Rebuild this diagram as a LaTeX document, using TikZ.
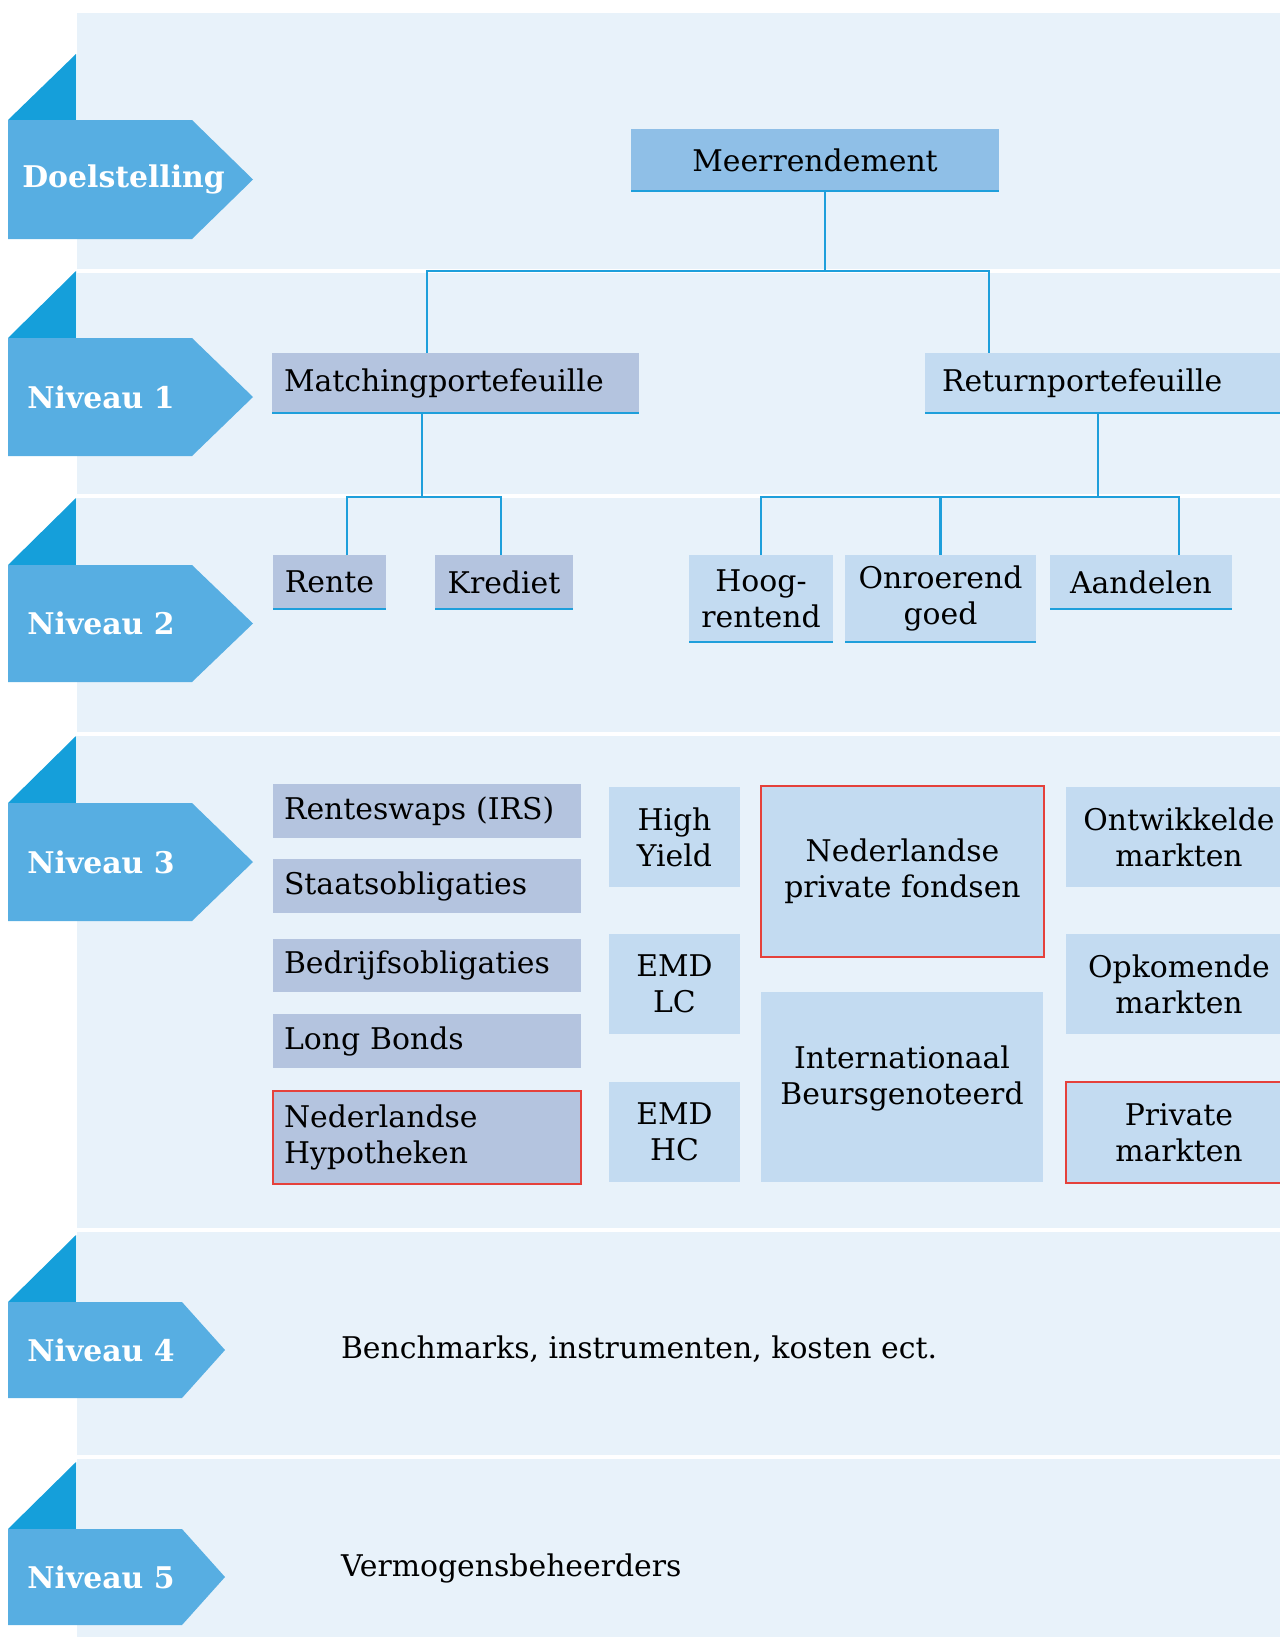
\documentclass[tikz,border=0pt]{standalone}
\usepackage{fontspec}
\setmainfont{DejaVu Serif}
\usetikzlibrary{calc}

\definecolor{panel}{HTML}{E8F2FA}
\definecolor{bannerblue}{HTML}{57AEE2}
\definecolor{cornerblue}{HTML}{159FDA}
\definecolor{topfill}{HTML}{8FBFE7}
\definecolor{matchfill}{HTML}{B4C4DF}
\definecolor{retfill}{HTML}{C3DBF1}
\definecolor{linkblue}{HTML}{1E9FDB}
\definecolor{markred}{HTML}{E5413B}

\tikzset{
  cell/.style={inner sep=0pt, outer sep=0pt, align=center,
    font=\fontsize{17}{20.5}\selectfont},
  box/.style args={#1/#2/#3/#4}{at={({(#1+#3)/2},{(#2+#4)/2})},
    minimum width={(#3-#1)*0.02cm}, minimum height={(#4-#2)*0.02cm}},
  topbox/.style={cell, fill=topfill},
  matchbox/.style={cell, fill=matchfill},
  retbox/.style={cell, fill=retfill},
  flagged/.style={draw=markred, line width=1.2pt},
  link/.style={draw=linkblue, line width=1.3pt},
  bar/.style={draw=linkblue, line width=1.6pt},
  banner/.style={fill=bannerblue},
  corner/.style={fill=cornerblue},
  flagtext/.style={text=white, anchor=west, inner sep=0pt,
    font=\fontsize{17}{19}\selectfont\bfseries},
}

\begin{document}
\begin{tikzpicture}[x=0.02cm, y=-0.02cm]
    \useasboundingbox (0,0) rectangle (1280,1637);
    \clip (0,0) rectangle (1280,1637);

    % fondo y separadores de filas
    \fill[panel] (77,13) rectangle (1280,1637);
    \foreach \y in {271,496,734,1230,1457}
        \draw[white, line width=2.3pt] (77,\y) -- (1280,\y);

    % banderas de niveles
    \foreach \top/\ya/\yb/\r/\tip/\tx/\lab [count=\i] in {
        54/120/239/192/253/22/Doelstelling,
        271/338/456/192/253/27/Niveau 1,
        498/565/682/192/253/27/Niveau 2,
        736/803/921/192/253/27/Niveau 3,
        1235/1302/1398/182/225/27/Niveau 4,
        1462/1529/1625/182/225/27/Niveau 5} {
        \fill[corner] (8,\ya) -- (76,\top) -- (76,\ya) -- cycle;
        \fill[banner] (8,\ya) -- (\r,\ya) -- (\tip,{(\ya+\yb)/2}) -- (\r,\yb) -- (8,\yb) -- cycle;
        \node[flagtext] (flag\i) at (\tx,{(\ya+\yb)/2}) {\lab};
    }

    % doelstelling y niveau 1
    \node[topbox, box=631/129/999/191] (meer) {Meerrendement};
    \node[matchbox, box=272/353/639/413, text width=6.86cm, align=left] (match) {Matchingportefeuille};
    \node[retbox, box=925/353/1300/413, text width=6.82cm, align=left] (ret) {Returnportefeuille};

    % niveau 2
    \node[matchbox, box=273/555/386/609] (rente) {Rente};
    \node[matchbox, box=435/555/573/609] (krediet) {Krediet};
    \node[retbox, box=689/555/833/642] (hoog) {Hoog-\\rentend};
    \node[retbox, box=845/555/1036/642] (onr) {Onroerend\\goed};
    \node[retbox, box=1050/555/1232/609] (aand) {Aandelen};

    % niveau 3, matching
    \node[matchbox, box=273/784/581/838, text width=5.72cm, align=left] (irs) {Renteswaps (IRS)};
    \node[matchbox, box=273/859/581/913, text width=5.72cm, align=left] (staat) {Staatsobligaties};
    \node[matchbox, box=273/939/581/992, text width=5.72cm, align=left] (bedrijf) {Bedrijfsobligaties};
    \node[matchbox, box=273/1014/581/1068, text width=5.72cm, align=left] (long) {Long Bonds};
    \node[matchbox, flagged, box=273/1091/581/1184, text width=5.72cm, align=left] (hypo) {Nederlandse\\Hypotheken};

    % niveau 3, return
    \node[retbox, box=609/787/740/887] (hy) {High\\Yield};
    \node[retbox, box=609/934/740/1034] (emdlc) {EMD\\LC};
    \node[retbox, box=609/1082/740/1182] (emdhc) {EMD\\HC};
    \node[retbox, flagged, box=761/786/1044/957] (npf) {Nederlandse\\private fondsen};
    \node[retbox, box=761/992/1043/1182, text depth=14pt] (intl) {Internationaal\\Beursgenoteerd};
    \node[retbox, box=1066/787/1292/887] (ontw) {Ontwikkelde\\markten};
    \node[retbox, box=1066/934/1292/1034] (opk) {Opkomende\\markten};
    \node[retbox, flagged, box=1066/1082/1292/1183] (privm) {Private\\markten};

    % niveau 4 y 5
    \node[cell, anchor=west] (bench) at (341,1349) {Benchmarks, instrumenten, kosten ect.};
    \node[cell, anchor=west] (verm) at (341,1568) {Vermogensbeheerders};

    % lineas inferiores de las cajas
    \foreach \n in {meer,match,ret,rente,krediet,hoog,onr,aand}
        \draw[bar] (\n.south west) -- (\n.south east);

    % conectores
    \draw[link] ($(meer.south west)+(194,0)$) -- ++(0,80) coordinate (j0);
    \draw[link] ($(match.north west)+(155,0)$) |- (j0) -| ($(ret.north west)+(64,0)$);
    \draw[link] ($(match.south west)+(150,0)$) -- ++(0,84) coordinate (j1);
    \draw[link] ($(rente.north west)+(74,0)$) |- (j1) -| ($(krediet.north west)+(66,0)$);
    \draw[link] ($(ret.south west)+(173,0)$) -- ++(0,84) coordinate (j2);
    \draw[link] (hoog.north) |- (j2) -| ($(aand.north west)+(129,0)$);
    \draw[link] (onr.north) -- (onr.north |- j2);

\end{tikzpicture}
\end{document}
